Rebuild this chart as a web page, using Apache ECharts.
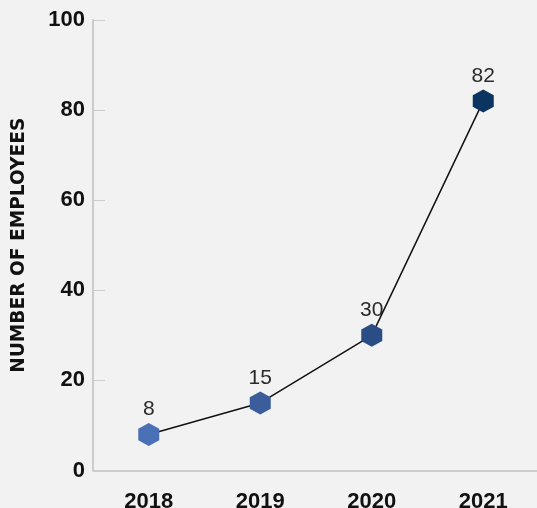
<!DOCTYPE html>
<html><head><meta charset="utf-8">
<script src="https://cdn.jsdelivr.net/npm/echarts@6/dist/echarts.min.js"></script>
<style>html,body{margin:0;padding:0;background:#f2f2f2;}#c{width:537px;height:508px;}</style>
</head><body><div id="c"></div>
<script>
const categories = ['2018', '2019', '2020', '2021'];
const employees = [8, 15, 30, 82];
const markerColors = ['#4a70b6', '#3b5d9c', '#2b4d85', '#0c3460'];
const yTicks = [0, 20, 40, 60, 80, 100];

const hex = 'path://M10,0 L18.66,5 L18.66,15 L10,20 L1.34,15 L1.34,5 Z';
const chart = echarts.init(document.getElementById('c'), null, {renderer: 'canvas'});
chart.setOption({
  backgroundColor: '#f2f2f2',
  animation: false,
  grid: {left: 93, top: 20, bottom: 37.5, width: 446, containLabel: false, outerBoundsMode: 'none'},
  xAxis: {
    type: 'category', data: categories, boundaryGap: true,
    axisLine: {lineStyle: {color: '#cccccc', width: 2}},
    axisTick: {inside: true, length: 11, lineStyle: {color: '#cccccc'}},
    axisLabel: {color: '#111', fontWeight: 'bold', fontSize: 22, fontFamily: 'Liberation Sans', margin: 20}
  },
  yAxis: {
    type: 'value', min: yTicks[0], max: yTicks[yTicks.length - 1], interval: 20,
    name: 'NUMBER OF EMPLOYEES', nameLocation: 'middle', nameGap: 64, nameRotate: 90,
    nameTextStyle: {color: '#111', fontWeight: 'bold', fontSize: 18.6, fontFamily: 'DejaVu Sans'},
    axisLine: {show: true, lineStyle: {color: '#cccccc', width: 2}},
    axisTick: {show: true, inside: true, length: 12, lineStyle: {color: '#cccccc'}},
    splitLine: {show: false},
    axisLabel: {color: '#111', fontWeight: 'bold', fontSize: 22, fontFamily: 'Liberation Sans', margin: 8}
  },
  series: [{
    type: 'line',
    data: employees.map((v, i) => ({value: v, itemStyle: {color: markerColors[i]}})),
    symbol: hex, symbolSize: [21, 23],
    lineStyle: {color: '#111', width: 1.5},
    label: {show: true, position: 'top', distance: 3, color: '#2a2a2a', fontSize: 21, fontFamily: 'Liberation Sans'}
  }]
});
</script></body></html>
